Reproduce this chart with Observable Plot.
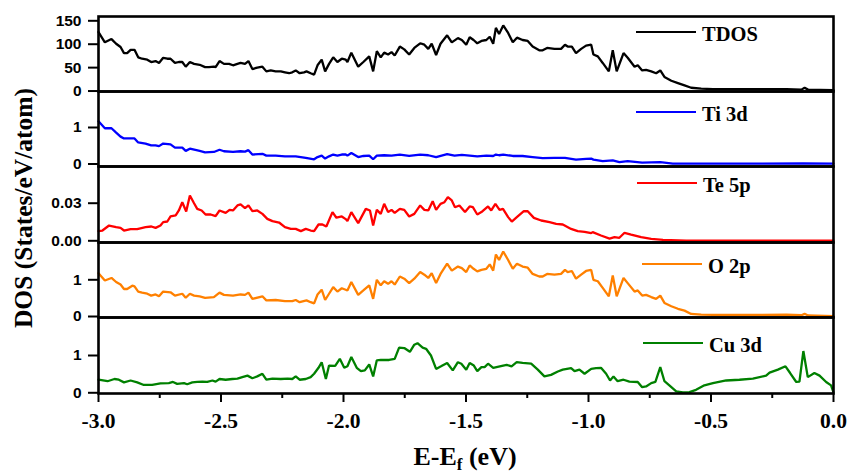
<!DOCTYPE html>
<html><head><meta charset="utf-8">
<script src="https://cdn.jsdelivr.net/npm/d3@7"></script>
<script src="https://cdn.jsdelivr.net/npm/@observablehq/plot@0.6"></script>
<style>
body{margin:0;background:#fff;}
#chart{position:relative;width:848px;height:474px;background:#fff;overflow:hidden;}
#chart svg{position:absolute;left:0;overflow:visible;}
g[aria-label="y-axis tick"] path, g[aria-label="x-axis tick"] path{stroke-width:2px;}
</style></head><body><div id="chart"></div>
<script>
// ---------- data (energies in eV, DOS values) ----------
const tdosE=[-3.000,-2.974,-2.947,-2.928,-2.910,-2.896,-2.883,-2.869,-2.853,-2.838,-2.822,-2.801,-2.785,-2.767,-2.753,-2.736,-2.719,-2.706,-2.688,-2.672,-2.658,-2.644,-2.627,-2.610,-2.587,-2.565,-2.549,-2.529,-2.522,-2.506,-2.488,-2.467,-2.451,-2.433,-2.420,-2.402,-2.388,-2.372,-2.352,-2.331,-2.315,-2.297,-2.277,-2.256,-2.239,-2.222,-2.209,-2.195,-2.179,-2.161,-2.151,-2.134,-2.120,-2.106,-2.089,-2.075,-2.059,-2.042,-2.025,-2.007,-1.991,
-1.984,-1.968,-1.940,-1.919,-1.895,-1.879,-1.864,-1.848,-1.834,-1.818,-1.804,-1.791,-1.770,-1.752,-1.732,-1.711,-1.687,-1.670,-1.654,-1.640,-1.622,-1.604,-1.577,-1.558,-1.533,-1.517,-1.499,-1.485,-1.469,-1.454,-1.437,-1.417,-1.403,-1.389,-1.378,-1.365,-1.348,-1.328,-1.309,-1.292,-1.269,-1.248,-1.228,-1.201,-1.187,-1.169,-1.139,-1.112,-1.096,-1.085,-1.068,-1.051,-1.030,-1.010,-0.989,
-0.980,-0.962,-0.942,-0.917,-0.901,-0.885,-0.857,-0.840,-0.812,-0.799,-0.781,-0.765,-0.744,-0.724,-0.707,-0.690,-0.662,-0.635,-0.608,-0.581,-0.540,-0.492,-0.397,-0.301,-0.192,-0.131,-0.118,-0.104,-0.056,0.000];
const tdosV=[126,104,111,101,94,81,81,88,88,72,69,67,62,64,60,71,69,69,60,62,62,52,62,58,56,51,51,52,51,64,58,58,55,58,60,58,64,47,50,52,42,44,42,42,40,38,40,44,38,40,42,38,35,55,67,42,58,72,62,69,67,
62,82,52,62,74,42,85,72,82,78,83,76,95,89,78,92,102,99,90,101,77,101,119,104,113,109,99,115,109,102,107,109,116,101,135,122,140,124,104,114,109,107,95,87,87,92,90,90,99,95,95,81,90,97,99,
78,74,60,42,87,42,81,71,52,55,44,45,42,38,44,30,22,17,12,7,5,4,4,4,4,3,7,3,2.5,1.8];

const tiE=[-3.000,-2.974,-2.947,-2.928,-2.910,-2.896,-2.869,-2.853,-2.838,-2.808,-2.785,-2.767,-2.753,-2.736,-2.706,-2.688,-2.658,-2.644,-2.627,-2.587,-2.565,-2.529,-2.506,-2.488,-2.451,-2.420,-2.402,-2.388,-2.372,-2.331,-2.315,-2.277,-2.239,-2.195,-2.154,-2.120,-2.106,-2.089,-2.075,-2.059,-2.042,-2.025,-2.007,-1.991,
-1.984,-1.968,-1.940,-1.919,-1.895,-1.879,-1.864,-1.834,-1.804,-1.770,-1.732,-1.687,-1.654,-1.622,-1.577,-1.547,-1.517,-1.485,-1.454,-1.417,-1.389,-1.378,-1.365,-1.348,-1.309,-1.269,-1.228,-1.187,-1.139,-1.096,-1.051,-1.010,-0.989,
-0.980,-0.942,-0.901,-0.874,-0.840,-0.781,-0.707,-0.656,-0.533,-0.329,-0.124,0.000];
const tiV=[1.17,0.98,0.98,0.86,0.75,0.70,0.70,0.70,0.59,0.56,0.51,0.51,0.49,0.56,0.54,0.45,0.45,0.36,0.42,0.36,0.32,0.33,0.39,0.35,0.33,0.35,0.34,0.38,0.26,0.28,0.23,0.23,0.21,0.21,0.17,0.13,0.19,0.23,0.15,0.21,0.26,0.23,0.26,0.26,
0.23,0.30,0.19,0.22,0.23,0.13,0.23,0.24,0.23,0.26,0.22,0.26,0.24,0.19,0.27,0.23,0.25,0.23,0.21,0.23,0.22,0.26,0.24,0.26,0.22,0.22,0.19,0.16,0.17,0.17,0.12,0.14,0.15,
0.12,0.08,0.10,0.05,0.08,0.04,0.05,0.01,0.01,0.01,0.02,0.01];

const teE=[-3.000,-2.984,-2.957,-2.928,-2.910,-2.896,-2.869,-2.842,-2.808,-2.784,-2.767,-2.747,-2.736,-2.719,-2.706,-2.685,-2.672,-2.658,-2.642,-2.627,-2.610,-2.597,-2.579,-2.563,-2.542,-2.522,-2.506,-2.481,-2.465,-2.451,-2.433,-2.420,-2.402,-2.388,-2.372,-2.352,-2.331,-2.311,-2.290,-2.263,-2.239,-2.215,-2.195,-2.174,-2.154,-2.134,-2.120,-2.102,-2.086,-2.070,-2.045,-2.029,-2.007,-1.991,
-1.984,-1.968,-1.940,-1.909,-1.892,-1.879,-1.864,-1.848,-1.834,-1.818,-1.804,-1.791,-1.770,-1.752,-1.732,-1.711,-1.687,-1.670,-1.654,-1.636,-1.622,-1.604,-1.588,-1.574,-1.558,-1.545,-1.527,-1.504,-1.485,-1.472,-1.454,-1.437,-1.410,-1.397,-1.380,-1.363,-1.349,-1.328,-1.313,-1.289,-1.264,-1.248,-1.223,-1.193,-1.159,-1.132,-1.105,-1.071,-1.044,-1.016,-0.989,
-0.983,-0.949,-0.914,-0.894,-0.874,-0.853,-0.826,-0.785,-0.744,-0.696,-0.601,-0.397,0.000];
const teV=[0.0077,0.0082,0.0122,0.0109,0.0103,0.0082,0.0093,0.0093,0.0109,0.0114,0.0103,0.0122,0.0149,0.0154,0.0194,0.0202,0.0242,0.0308,0.0234,0.0361,0.0300,0.0255,0.0242,0.0210,0.0210,0.0197,0.0242,0.0223,0.0247,0.0242,0.0282,0.0290,0.0260,0.0282,0.0236,0.0242,0.0215,0.0175,0.0157,0.0146,0.0109,0.0095,0.0095,0.0077,0.0095,0.0082,0.0077,0.0130,0.0130,0.0114,0.0229,0.0184,0.0194,0.0173,
0.0157,0.0229,0.0141,0.0255,0.0242,0.0122,0.0247,0.0215,0.0295,0.0229,0.0247,0.0223,0.0255,0.0247,0.0194,0.0215,0.0282,0.0247,0.0242,0.0316,0.0247,0.0295,0.0308,0.0348,0.0322,0.0268,0.0282,0.0229,0.0274,0.0268,0.0210,0.0229,0.0274,0.0242,0.0295,0.0247,0.0255,0.0189,0.0154,0.0194,0.0236,0.0236,0.0183,0.0162,0.0149,0.0135,0.0130,0.0095,0.0077,0.0072,0.0061,
0.0069,0.0042,0.0018,0.0029,0.0024,0.0064,0.0050,0.0029,0.0016,0.0008,0.0002,0.0002,0.0002];

const oE=[-3.000,-2.974,-2.947,-2.928,-2.910,-2.896,-2.883,-2.862,-2.853,-2.838,-2.822,-2.801,-2.785,-2.767,-2.753,-2.736,-2.706,-2.688,-2.658,-2.644,-2.627,-2.610,-2.587,-2.565,-2.529,-2.506,-2.488,-2.451,-2.420,-2.402,-2.388,-2.372,-2.331,-2.315,-2.277,-2.239,-2.209,-2.195,-2.179,-2.151,-2.134,-2.120,-2.106,-2.089,-2.075,-2.059,-2.042,-2.025,-2.007,-1.991,
-1.984,-1.968,-1.940,-1.919,-1.895,-1.879,-1.864,-1.848,-1.834,-1.818,-1.804,-1.791,-1.770,-1.752,-1.732,-1.711,-1.687,-1.670,-1.654,-1.640,-1.622,-1.604,-1.577,-1.558,-1.533,-1.517,-1.499,-1.485,-1.469,-1.454,-1.437,-1.417,-1.403,-1.389,-1.378,-1.365,-1.348,-1.328,-1.309,-1.292,-1.269,-1.248,-1.228,-1.201,-1.187,-1.169,-1.139,-1.112,-1.096,-1.085,-1.068,-1.051,-1.030,-1.010,-0.989,
-0.980,-0.962,-0.942,-0.917,-0.901,-0.885,-0.857,-0.840,-0.812,-0.799,-0.781,-0.765,-0.744,-0.724,-0.707,-0.690,-0.662,-0.635,-0.608,-0.581,-0.540,-0.492,-0.301,-0.192,-0.131,-0.118,-0.104,0.000];
const oV=[1.18,0.98,1.05,0.94,0.87,0.75,0.75,0.84,0.82,0.68,0.65,0.62,0.57,0.60,0.55,0.68,0.66,0.57,0.62,0.51,0.62,0.57,0.55,0.51,0.53,0.65,0.59,0.57,0.60,0.59,0.65,0.48,0.55,0.44,0.45,0.42,0.42,0.45,0.39,0.44,0.39,0.36,0.60,0.73,0.45,0.62,0.80,0.68,0.77,0.73,
0.71,0.94,0.59,0.71,0.85,0.48,1.00,0.85,0.96,0.89,0.96,0.87,1.09,1.03,0.91,1.03,1.21,1.14,1.05,1.18,0.91,1.16,1.44,1.25,1.36,1.32,1.21,1.39,1.30,1.23,1.27,1.30,1.42,1.25,1.69,1.54,1.77,1.54,1.30,1.44,1.36,1.33,1.16,1.09,1.09,1.16,1.14,1.16,1.27,1.21,1.24,1.03,1.14,1.24,1.27,
1.00,0.96,0.78,0.55,1.12,0.55,1.05,0.91,0.68,0.71,0.57,0.59,0.53,0.48,0.57,0.37,0.28,0.21,0.16,0.07,0.05,0.045,0.045,0.054,0.036,0.073,0.027,0.009];

const cuE=[-3.000,-2.963,-2.935,-2.917,-2.896,-2.869,-2.842,-2.815,-2.781,-2.747,-2.713,-2.696,-2.679,-2.651,-2.638,-2.617,-2.597,-2.576,-2.556,-2.535,-2.522,-2.506,-2.481,-2.454,-2.433,-2.413,-2.392,-2.372,-2.352,-2.331,-2.315,-2.290,-2.256,-2.228,-2.209,-2.195,-2.179,-2.154,-2.134,-2.120,-2.102,-2.089,-2.072,-2.059,-2.034,-2.015,-1.997,
-1.984,-1.968,-1.946,-1.929,-1.913,-1.895,-1.879,-1.864,-1.848,-1.814,-1.791,-1.773,-1.752,-1.729,-1.711,-1.698,-1.677,-1.663,-1.643,-1.622,-1.602,-1.577,-1.554,-1.533,-1.519,-1.499,-1.485,-1.468,-1.454,-1.437,-1.424,-1.410,-1.389,-1.362,-1.334,-1.314,-1.293,-1.269,-1.234,-1.207,-1.180,-1.153,-1.125,-1.105,-1.071,-1.057,-1.037,-1.016,-0.989,
-0.969,-0.949,-0.928,-0.912,-0.898,-0.881,-0.857,-0.833,-0.799,-0.781,-0.765,-0.744,-0.727,-0.707,-0.690,-0.670,-0.642,-0.615,-0.588,-0.561,-0.527,-0.492,-0.438,-0.384,-0.329,-0.275,-0.261,-0.227,-0.196,-0.177,-0.152,-0.139,-0.123,-0.105,-0.078,-0.057,-0.030,-0.010,0.000];
const cuV=[0.35,0.31,0.37,0.35,0.28,0.33,0.28,0.21,0.21,0.25,0.26,0.29,0.24,0.26,0.23,0.28,0.29,0.30,0.29,0.33,0.30,0.37,0.35,0.37,0.38,0.42,0.46,0.39,0.44,0.51,0.35,0.38,0.37,0.38,0.37,0.44,0.35,0.37,0.42,0.51,0.67,0.82,0.37,0.73,0.72,0.91,0.67,
0.71,0.96,0.67,0.58,0.60,0.76,0.44,0.87,0.88,0.88,0.91,1.21,1.20,1.10,1.29,1.33,1.21,1.18,1.00,0.64,0.71,0.80,0.60,0.82,0.78,0.62,0.80,0.73,0.58,0.69,0.69,0.78,0.67,0.71,0.75,0.71,0.82,0.80,0.78,0.62,0.44,0.48,0.57,0.62,0.66,0.58,0.62,0.51,0.64,
0.66,0.67,0.51,0.33,0.44,0.31,0.35,0.30,0.29,0.15,0.17,0.26,0.29,0.69,0.31,0.20,0.04,0.01,0.02,0.08,0.20,0.26,0.33,0.35,0.38,0.46,0.54,0.62,0.71,0.53,0.29,0.30,1.12,0.42,0.53,0.46,0.29,0.20,0.01];

const seriesNames=["TDOS","Ti 3d","Te 5p","O 2p","Cu 3d"];
const yTickValues=[[0,50,100,150],[0,1],[0,0.03],[0,1],[0,1]];
const xMajorTicks=[-3.0,-2.5,-2.0,-1.5,-1.0,-0.5,0.0];
const xMinorTicks=[-2.75,-2.25,-1.75,-1.25,-0.75,-0.25];
const xTitle=["E-E","f"," (eV)"];
const yTitle="DOS (States/eV/atom)";

// ---------- layout / style ----------
const layout=[
 {E:tdosE,V:tdosV,color:"#000000",top:16,bottom:91,domain:[-1,159.2],fmt:d=>String(d),leg:{x1:636,x2:696,y:32,tx:702}},
 {E:tiE,V:tiV,color:"#0000ff",top:91,bottom:166,domain:[-0.068,1.986],fmt:d=>String(d),leg:{x1:636,x2:696,y:112,tx:702}},
 {E:teE,V:teV,color:"#ff0000",top:166,bottom:242,domain:[-0.00136,0.0593],fmt:d=>d.toFixed(2),leg:{x1:637,x2:697,y:183,tx:703}},
 {E:oE,V:oV,color:"#ff8000",top:242,bottom:317,domain:[-0.027,2.016],fmt:d=>String(d),leg:{x1:642,x2:702,y:264,tx:708}},
 {E:cuE,V:cuV,color:"#008000",top:317,bottom:393,domain:[-0.019,2.019],fmt:d=>String(d),leg:{x1:643,x2:703,y:343,tx:709}}
];
const serif="'Liberation Serif','Times New Roman',serif";
const sans="'Liberation Sans',Arial,sans-serif";
const chart=document.getElementById("chart");

layout.forEach((p,i)=>{
  const last=i===layout.length-1;
  const mb=last?60:0;
  const marks=[
    Plot.line(p.V,{x:p.E,y:p.V,stroke:p.color,strokeWidth:2.3,strokeLinejoin:"miter"}),
    Plot.axisY({ticks:yTickValues[i],tickSize:10,tickPadding:7,tickFormat:p.fmt,label:null,
      fontSize:15.5,fontWeight:"bold",fontFamily:sans,fill:"black",stroke:"black"}),
    Plot.frame({stroke:"black",strokeWidth:2.6})
  ];
  if(last){
    marks.push(Plot.axisX({ticks:xMajorTicks,tickSize:9,tickPadding:10,tickFormat:d=>d.toFixed(1),label:null,
      fontSize:21.5,fontWeight:"bold",fontFamily:serif,stroke:"black"}));
    marks.push(Plot.axisX({ticks:xMinorTicks,tickSize:5,tickFormat:()=>"",label:null,stroke:"black"}));
  }
  const svg=Plot.plot({
    width:848,height:(p.bottom-p.top)+mb,
    marginLeft:98,marginRight:15,marginTop:0,marginBottom:mb,
    style:{background:"transparent",overflow:"visible",color:"black"},
    x:{domain:[-3,0],axis:last?undefined:null},
    y:{domain:p.domain},
    marks
  });
  svg.style.top=p.top+"px";
  chart.appendChild(svg);
});

// overlay: legends and axis titles
const ov=d3.select(chart).append("svg").attr("width",848).attr("height",474)
  .style("top","0px").style("pointer-events","none");
layout.forEach((p,i)=>{
  ov.append("line").attr("x1",p.leg.x1).attr("x2",p.leg.x2).attr("y1",p.leg.y).attr("y2",p.leg.y)
    .attr("stroke",p.color).attr("stroke-width",2.2);
  ov.append("text").attr("x",p.leg.tx).attr("y",p.leg.y+8.5)
    .attr("font-family",serif).attr("font-weight","bold").attr("font-size",20.5)
    .attr("fill","black").text(seriesNames[i]);
});
const xt=ov.append("text").attr("x",465).attr("y",465).attr("text-anchor","middle")
  .attr("font-family",serif).attr("font-weight","bold").attr("font-size",26).attr("fill","black");
xt.append("tspan").text(xTitle[0]);
xt.append("tspan").attr("font-size",17).attr("dy",5).text(xTitle[1]);
xt.append("tspan").attr("dy",-5).text(xTitle[2]);
ov.append("text").attr("transform","translate(32,208) rotate(-90)").attr("text-anchor","middle")
  .attr("font-family",serif).attr("font-weight","bold").attr("font-size",25.5).attr("fill","black")
  .text(yTitle);
</script></body></html>
